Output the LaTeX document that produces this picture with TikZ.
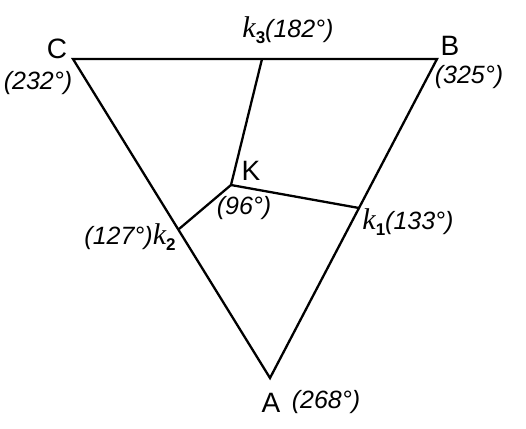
\documentclass[tikz,border=0pt]{standalone}
\usepackage{fontspec}
\setmainfont{Liberation Sans}
\newfontfamily\kfont{Liberation Serif}
\newcommand{\kk}[1]{{\kfont\fontsize{30}{32}\selectfont\itshape k}\raisebox{-6pt}{\upshape\bfseries\fontsize{17}{18}\selectfont #1}}
\begin{document}
\begin{tikzpicture}[x=1pt,y=-1pt,
  edge/.style={line width=2.3pt,line join=miter},
  lab/.style={inner sep=0pt,font=\fontsize{28}{30}\selectfont},
  ang/.style={inner sep=0pt,font=\fontsize{25}{28}\selectfont\itshape}]
\useasboundingbox (0,0) rectangle (526,428);
\coordinate (C) at (73,59);
\coordinate (B) at (437,59);
\coordinate (A) at (270,378);
\coordinate (K) at (231,185);
\coordinate (k3) at (262,59);
\coordinate (k2) at (179,229);
\coordinate (k1) at (359,208);
\draw[edge] (C) -- (B) -- (A) -- cycle;
\draw[edge] (K) -- (k3);
\draw[edge] (K) -- (k2);
\draw[edge] (K) -- (k1);
\node[lab] (lC) at (57,49) {C};
\node[ang] (aC) at (38,83) {(232°)};
\node[lab] (lB) at (450,46) {B};
\node[ang] (aB) at (469,77) {(325°)};
\node[ang] (lk3) at (288,30) {\kk{3}(182°)};
\node[lab] (lK) at (251,171) {K};
\node[ang] (aK) at (244,208) {(96°)};
\node[ang] (lk2) at (130,237) {(127°)\kk{2}};
\node[ang] (lk1) at (408,222) {\kk{1}(133°)};
\node[lab] (lA) at (271,403) {A};
\node[ang] (aA) at (326,402) {(268°)};
\end{tikzpicture}
\end{document}
